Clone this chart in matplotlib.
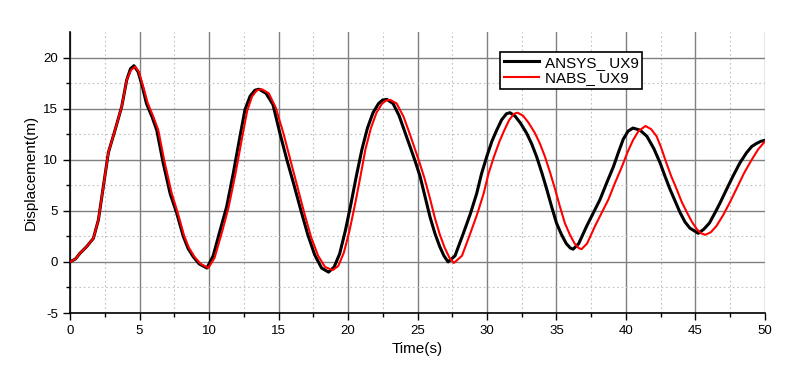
import matplotlib.pyplot as plt
import numpy as np

plt.rcParams['font.family'] = ['Liberation Sans', 'DejaVu Sans']
plt.rcParams['axes.unicode_minus'] = False

# ANSYS_ UX9 (black)
ansys_t = [0, 0.4, 0.72, 1.2, 1.68, 2.04, 2.4, 2.76, 3.24, 3.72, 4.08, 4.35, 4.6,
           4.9, 5.2, 5.5, 5.9, 6.24, 6.7, 7.2, 7.67, 8.15, 8.5, 8.87, 9.3, 9.85,
           10.3, 10.8, 11.27, 11.75, 12.23, 12.59, 12.95, 13.3, 13.6,
           14.1, 14.6, 15.1, 15.6, 16.1, 16.6, 17.1, 17.6, 18.1, 18.6,
           19.0, 19.4, 19.8, 20.2, 20.6, 21.0, 21.4, 21.8, 22.2, 22.5, 22.8,
           23.24, 23.68, 24.12, 24.46, 24.82, 25.18, 25.54, 25.9, 26.25, 26.6, 26.9, 27.2,
           27.7, 28.3, 28.8, 29.26, 29.6, 29.98, 30.35, 30.7, 31.05, 31.4, 31.65,
           32.0, 32.4, 32.85, 33.2, 33.57, 33.95, 34.3, 34.65, 35.0, 35.35, 35.7, 36.0, 36.2,
           36.6, 37.17, 37.65, 38.13, 38.6, 39.09, 39.45, 39.8, 40.15, 40.5,
           41.0, 41.5, 42.0, 42.45, 42.8, 43.17, 43.55, 43.9, 44.25, 44.6, 45.2,
           45.6, 46.0, 46.4, 46.76, 47.2, 47.7, 48.2, 48.68, 49.05, 49.4, 49.7, 50.0]
ansys_y = [0, 0.3, 0.85, 1.5, 2.3, 4.1, 7.4, 10.7, 12.9, 15.2, 17.8, 18.9, 19.2,
           18.6, 17.2, 15.5, 14.2, 12.9, 9.7, 6.7, 4.8, 2.5, 1.3, 0.5, -0.2, -0.6,
           0.6, 3.1, 5.4, 8.7, 12.3, 14.9, 16.2, 16.8, 16.9,
           16.5, 15.4, 12.6, 10.0, 7.6, 5.1, 2.7, 0.7, -0.6, -1.0,
           -0.5, 0.8, 3.0, 5.6, 8.4, 11.0, 13.1, 14.6, 15.5, 15.85, 15.9,
           15.5, 14.3, 12.6, 11.3, 9.9, 8.4, 6.4, 4.4, 2.8, 1.5, 0.6, 0.0,
           0.6, 2.8, 4.7, 6.7, 8.6, 10.3, 11.8, 12.9, 13.9, 14.5, 14.6,
           14.3, 13.6, 12.6, 11.6, 10.3, 8.7, 7.1, 5.4, 3.8, 2.7, 1.8, 1.35, 1.25,
           1.8, 3.5, 4.8, 6.1, 7.7, 9.3, 10.7, 12.0, 12.8, 13.1,
           12.9, 12.3, 11.1, 9.7, 8.4, 7.1, 5.9, 4.8, 3.9, 3.3, 2.8,
           3.2, 3.8, 4.8, 5.75, 7.0, 8.4, 9.7, 10.7, 11.3, 11.6, 11.8, 11.9]

# NABS_ UX9 (red)
nabs_t = [0, 0.4, 0.72, 1.2, 1.68, 2.04, 2.4, 2.76, 3.24, 3.72, 4.08, 4.4, 4.7,
          4.95, 5.3, 5.6, 6.0, 6.35, 6.8, 7.3, 7.75, 8.2, 8.55, 8.95, 9.4, 9.95,
          10.4, 10.95, 11.4, 11.9, 12.4, 12.75, 13.1, 13.45, 13.8,
          14.3, 14.8, 15.35, 15.85, 16.35, 16.85, 17.35, 17.85, 18.35, 18.9,
          19.3, 19.7, 20.1, 20.5, 20.9, 21.25, 21.65, 22.05, 22.45, 22.75, 23.05,
          23.5, 24.0, 24.45, 24.8, 25.15, 25.5, 25.9, 26.25, 26.6, 26.95, 27.3, 27.62,
          28.2, 28.8, 29.3, 29.76, 30.1, 30.5, 30.9, 31.25, 31.6, 31.95, 32.2,
          32.6, 33.0, 33.45, 33.8, 34.17, 34.55, 34.9, 35.25, 35.6, 35.95, 36.3, 36.6, 36.8,
          37.2, 37.77, 38.25, 38.73, 39.2, 39.7, 40.1, 40.5, 40.9, 41.4,
          41.8, 42.2, 42.55, 42.9, 43.25, 43.65, 44.0, 44.4, 44.75, 45.1, 45.4, 45.7,
          46.1, 46.5, 47.0, 47.5, 48.0, 48.5, 49.0, 49.5, 50.0]
nabs_y = [0, 0.3, 0.85, 1.5, 2.3, 4.1, 7.4, 10.7, 12.9, 15.2, 17.8, 18.8, 19.1,
          18.6, 17.0, 15.5, 14.2, 12.9, 9.8, 6.8, 4.8, 2.6, 1.4, 0.5, -0.2, -0.6,
          0.4, 3.0, 5.3, 8.6, 12.3, 14.8, 16.2, 16.8, 16.9,
          16.5, 15.1, 12.6, 10.0, 7.4, 4.8, 2.4, 0.6, -0.5, -0.8,
          -0.4, 0.9, 3.0, 5.6, 8.4, 11.0, 13.1, 14.6, 15.5, 15.8, 15.85,
          15.5, 14.2, 12.5, 11.1, 9.7, 8.2, 6.2, 4.3, 2.7, 1.4, 0.4, -0.1,
          0.6, 2.8, 4.7, 6.7, 8.6, 10.3, 11.8, 12.9, 13.9, 14.5, 14.6,
          14.3, 13.6, 12.6, 11.6, 10.3, 8.7, 7.1, 5.4, 3.8, 2.7, 1.8, 1.35, 1.25,
          1.8, 3.5, 4.8, 6.1, 7.7, 9.3, 10.7, 11.9, 12.8, 13.3,
          13.0, 12.3, 11.1, 9.7, 8.4, 7.1, 5.9, 4.8, 3.9, 3.2, 2.8, 2.65,
          2.9, 3.5, 4.6, 5.9, 7.3, 8.7, 9.9, 11.0, 11.8]

fig = plt.figure(figsize=(7.92, 3.72), dpi=100)
ax = fig.add_axes([0.0884, 0.1586, 0.8775, 0.7554])

ax.plot(ansys_t, ansys_y, color='black', lw=2.2, label='ANSYS_ UX9', zorder=3,
        solid_joinstyle='round')
ax.plot(nabs_t, nabs_y, color='#ff0000', lw=1.5, label='NABS_ UX9', zorder=4,
        solid_joinstyle='round')

ax.set_xlim(0, 50)
ax.set_ylim(-5, 22.5)
ax.set_xticks(np.arange(0, 51, 5))
ax.set_yticks(np.arange(-5, 21, 5))
ax.set_xticks(np.arange(2.5, 50, 5), minor=True)
ax.set_yticks(np.arange(-2.5, 20, 5), minor=True)

ax.grid(which='major', color='#808080', lw=1, ls='-')
ax.grid(which='minor', color='#c0c0c0', lw=0.8, ls=(0, (1.5, 2.5)))
ax.set_axisbelow(True)

for s in ['top', 'right']:
    ax.spines[s].set_visible(False)
for s in ['left', 'bottom']:
    ax.spines[s].set_linewidth(1.2)

ax.tick_params(which='major', direction='out', length=5, width=1, labelsize=9.5)
ax.tick_params(which='minor', direction='out', length=3, width=1)

ax.set_xlabel('Time(s)', fontsize=11)
ax.set_ylabel('Displacement(m)', fontsize=11)

leg = ax.legend(loc='upper left', bbox_to_anchor=(0.619, 0.929), fontsize=11,
                frameon=True, fancybox=False, edgecolor='black', framealpha=1,
                handlelength=2.3, borderpad=0.25, labelspacing=0.1,
                handletextpad=0.35, borderaxespad=0)
leg.get_frame().set_linewidth(1.2)

plt.savefig('out.png', dpi=100)
